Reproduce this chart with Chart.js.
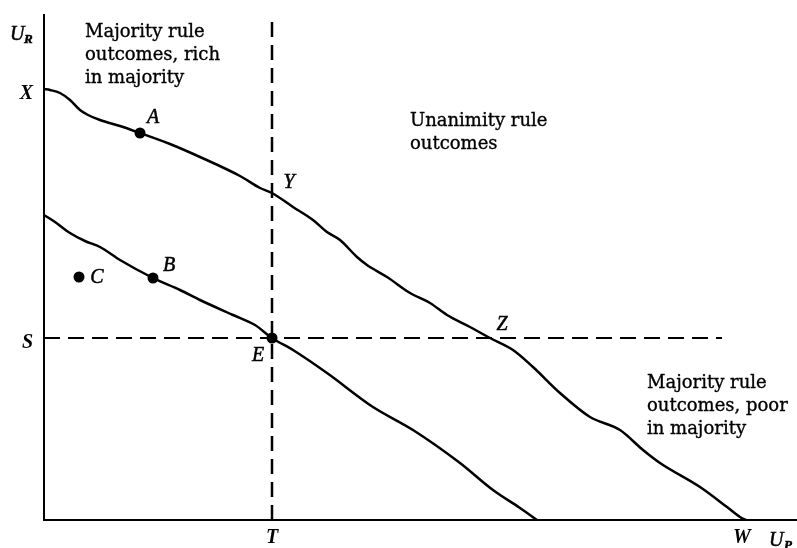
<!DOCTYPE html>
<html>
<head>
<meta charset="utf-8">
<script src="https://cdn.jsdelivr.net/npm/chart.js@4.4.1/dist/chart.umd.min.js"></script>
<style>
  html, body { margin: 0; padding: 0; background: #fff; }
  #wrap { width: 797px; height: 548px; position: relative; }
</style>
</head>
<body>
<div id="wrap"><canvas id="c" width="797" height="548"></canvas></div>
<script>
// ---- data (abstract utility units: U_P horizontal, U_R vertical) ----
const upperX = [0, 6, 16, 26, 36, 44, 56, 76, 96, 126, 156, 196, 216, 228, 249, 269, 283, 296, 313, 323, 343, 366, 386, 403, 426, 446, 469, 489, 516, 546, 576, 599, 616, 656, 683, 696, 702];
const upperY = [431, 430, 427, 420, 410, 405, 400, 394, 387, 376, 363, 344, 332, 327, 313, 300, 288, 280, 263, 255, 243, 227, 217, 205, 193, 182, 170, 153, 127, 103, 90, 70, 57, 33, 13, 3, 0];
const lowerX = [0, 11, 26, 41, 56, 76, 109, 136, 156, 189, 211, 228, 249, 283, 329, 369, 416, 449, 476, 493];
const lowerY = [305, 298, 287, 279, 273, 260, 242, 230, 220, 205, 195, 182, 170, 147, 113, 90, 57, 30, 12, 0];
const pointNames = ['A', 'B', 'C', 'E'];
const pointX = [96, 109, 35, 228];
const pointY = [387, 242, 243, 182];
const curveLabelNames = ['Y', 'Z'];
const curveLabelX = [228, 446];
const curveLabelY = [327, 182];
const tValue = 228;      // T
const sValue = 182;      // S
const xValue = 431;      // X
const wValue = 698;      // W
const hLineEnd = 678;    // end of the dashed S line
const xMax = 753;
const yMax = 505;
const yTickValues = [xValue, sValue];
const yTickLabels = ['X', 'S'];
const xTickValues = [tValue, wValue];
const xTickLabels = ['T', 'W'];
const regionTexts = [
  ['Majority rule', 'outcomes, rich', 'in majority'],
  ['Unanimity rule', 'outcomes'],
  ['Majority rule', 'outcomes, poor', 'in majority']
];

// ---- styles / layout ----
const INK = '#000';
const letterFont = 'italic 20px "Liberation Serif", serif';
const subFont = 'italic bold 13px "Liberation Serif", serif';
const textFont = '18px "DejaVu Serif", serif';
const labelOffsets = { A: [13, -15], B: [16, -12], C: [18, 1], E: [-14, 18], Y: [17, -10], Z: [12, -13] };
const regionPos = [[85, 37], [410, 126], [647, 388]];
const lineGap = 23;

const toPts = (xs, ys) => xs.map((x, i) => ({ x: x, y: ys[i] }));

const annotations = {
  id: 'annotations',
  afterDatasetsDraw(chart) {
    const ctx = chart.ctx;
    const xs = chart.scales.x, ys = chart.scales.y;
    ctx.save();
    ctx.fillStyle = INK;
    ctx.strokeStyle = INK;
    ctx.lineWidth = 0.5;
    const txt = (s, x, y) => { ctx.fillText(s, x, y); ctx.strokeText(s, x, y); };
    ctx.font = letterFont;
    ctx.textAlign = 'center';
    ctx.textBaseline = 'middle';
    const put = (name, dx, dy) => {
      const o = labelOffsets[name];
      txt(name, xs.getPixelForValue(dx) + o[0], ys.getPixelForValue(dy) + o[1]);
    };
    pointNames.forEach((n, i) => put(n, pointX[i], pointY[i]));
    curveLabelNames.forEach((n, i) => put(n, curveLabelX[i], curveLabelY[i]));
    // axis titles with subscripts
    ctx.textAlign = 'left';
    ctx.textBaseline = 'alphabetic';
    ctx.font = letterFont;
    txt('U', 10, 40);
    ctx.font = subFont;
    txt('R', 24, 43);
    ctx.font = letterFont;
    txt('U', 769, 546);
    ctx.font = subFont;
    txt('P', 784, 549);
    ctx.font = textFont;
    ctx.lineWidth = 0.35;
    regionTexts.forEach((lines, k) => {
      lines.forEach((ln, j) => txt(ln, regionPos[k][0], regionPos[k][1] + j * lineGap));
    });
    ctx.restore();
  }
};

const tickFont = { family: '"Liberation Serif", serif', style: 'italic', size: 20, weight: 'bold' };

new Chart(document.getElementById('c'), {
  type: 'scatter',
  data: {
    datasets: [
      { data: toPts(upperX, upperY), showLine: true, borderColor: INK, borderWidth: 2.5, pointRadius: 0, cubicInterpolationMode: 'monotone', fill: false },
      { data: toPts(lowerX, lowerY), showLine: true, borderColor: INK, borderWidth: 2.5, pointRadius: 0, cubicInterpolationMode: 'monotone', fill: false },
      { data: [{ x: tValue, y: 0 }, { x: tValue, y: yMax }], showLine: true, borderColor: INK, borderWidth: 2.5, borderDash: [15, 8], pointRadius: 0 },
      { data: [{ x: 0, y: sValue }, { x: hLineEnd, y: sValue }], showLine: true, borderColor: INK, borderWidth: 2, borderDash: [16, 8], pointRadius: 0 },
      { data: toPts(pointX, pointY), showLine: false, pointRadius: 5.5, pointBackgroundColor: INK, pointBorderColor: INK, pointBorderWidth: 0 }
    ]
  },
  options: {
    responsive: false,
    animation: false,
    layout: { autoPadding: false, padding: { top: 15, right: 0, left: 0, bottom: 0 } },
    plugins: { legend: { display: false }, tooltip: { enabled: false } },
    scales: {
      x: {
        type: 'linear', min: 0, max: xMax,
        grid: { display: false, drawTicks: false },
        border: { display: true, color: INK, width: 2 },
        afterBuildTicks: (s) => { s.ticks = xTickValues.map(v => ({ value: v })); },
        afterFit: (s) => { s.height = 28; s.paddingLeft = 0; s.paddingRight = 0; },
        ticks: {
          padding: 6, color: INK, font: tickFont,
          maxRotation: 0, autoSkip: false,
          callback: (v) => { const i = xTickValues.indexOf(v); return i >= 0 ? xTickLabels[i] : ''; }
        }
      },
      y: {
        type: 'linear', min: 0, max: yMax,
        grid: { display: false, drawTicks: false },
        border: { display: true, color: INK, width: 2 },
        afterBuildTicks: (s) => { s.ticks = yTickValues.map(v => ({ value: v })); },
        afterFit: (s) => { s.width = 44; s.paddingTop = 0; s.paddingBottom = 0; },
        ticks: {
          padding: 11, labelOffset: 5, color: INK, font: tickFont,
          autoSkip: false,
          callback: (v) => { const i = yTickValues.indexOf(v); return i >= 0 ? yTickLabels[i] : ''; }
        }
      }
    }
  },
  plugins: [annotations]
});
</script>
</body>
</html>
